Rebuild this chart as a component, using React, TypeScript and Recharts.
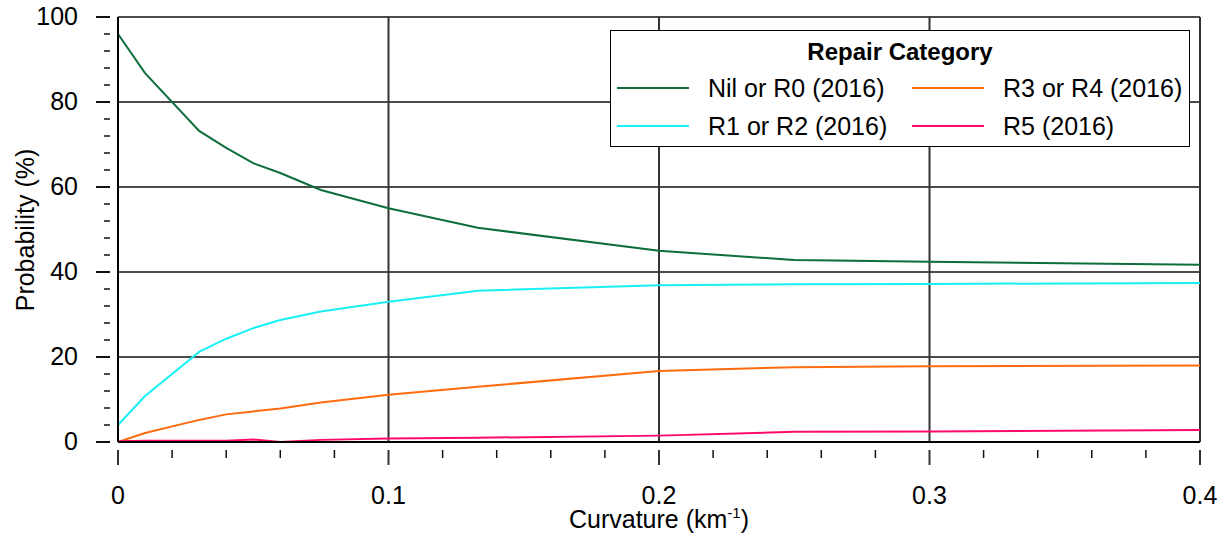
import { LineChart, Line, XAxis, YAxis, ReferenceLine } from 'recharts';

const curvature = [0, 0.01, 0.03, 0.04, 0.05, 0.06, 0.075, 0.1, 0.133, 0.2, 0.25, 0.3, 0.4];
const nilR0 = [96, 86.8, 73.2, 69.2, 65.6, 63.3, 59.3, 55, 50.4, 45, 42.8, 42.4, 41.7];
const r1r2 = [4, 10.8, 21.2, 24.3, 26.8, 28.7, 30.7, 33, 35.6, 36.9, 37.1, 37.2, 37.4];
const r3r4 = [0, 2.1, 5.2, 6.5, 7.2, 7.9, 9.3, 11.1, 13, 16.7, 17.6, 17.8, 18];
const r5 = [0.2, 0.3, 0.3, 0.3, 0.6, 0, 0.5, 0.8, 1, 1.5, 2.4, 2.5, 2.8];

const xMajor = [0, 0.1, 0.2, 0.3, 0.4];
const xTicks = [0, 0.02, 0.04, 0.06, 0.08, 0.1, 0.12, 0.14, 0.16, 0.18, 0.2, 0.22, 0.24, 0.26, 0.28, 0.3, 0.32, 0.34, 0.36, 0.38, 0.4];
const yMajor = [0, 20, 40, 60, 80, 100];
const yTicks = [0, 4, 8, 12, 16, 20, 24, 28, 32, 36, 40, 44, 48, 52, 56, 60, 64, 68, 72, 76, 80, 84, 88, 92, 96, 100];

const series = [
  { key: 'nil', name: 'Nil or R0 (2016)', color: '#0d6e3c', values: nilR0 },
  { key: 'r12', name: 'R1 or R2 (2016)', color: '#18f0f5', values: r1r2 },
  { key: 'r34', name: 'R3 or R4 (2016)', color: '#ff6c10', values: r3r4 },
  { key: 'r5', name: 'R5 (2016)', color: '#ff0a6a', values: r5 },
];

const data = curvature.map((x, i) => {
  const row: Record<string, number> = { x };
  series.forEach((s) => {
    row[s.key] = s.values[i];
  });
  return row;
});

const FONT = 'Arial, "Liberation Sans", sans-serif';
const FS = 25;
const isMajor = (list: number[], v: number) => list.some((m) => Math.abs(m - v) < 1e-9);

const XTick = ({ x, y, payload }: any) => {
  const major = isMajor(xMajor, payload.value);
  return (
    <g>
      <line x1={x} x2={x} y1={y} y2={y + (major ? 15 : 8)} stroke={major ? '#333' : '#111'} strokeWidth={major ? 2 : 1.5} />
      {major && (
        <text x={x} y={y + 54} textAnchor="middle" fontSize={FS} fontFamily={FONT} fill="#000">
          {payload.value}
        </text>
      )}
    </g>
  );
};

const YTick = ({ x, y, payload }: any) => {
  const major = isMajor(yMajor, payload.value);
  return (
    <g>
      <line x1={x - (major ? 14 : 6)} x2={x} y1={y} y2={y} stroke="#111" strokeWidth={major ? 2 : 1.5} />
      {major && (
        <text x={x - 32} y={y + 8} textAnchor="end" fontSize={FS} fontFamily={FONT} fill="#000">
          {payload.value}
        </text>
      )}
    </g>
  );
};

const XTitle = ({ viewBox }: any) => {
  const cx = viewBox.x + viewBox.width / 2;
  return (
    <text x={cx} y={528} textAnchor="middle" fontSize={FS} fontFamily={FONT} fill="#000">
      Curvature (km
      <tspan fontSize={15} dy={-10}>-1</tspan>
      <tspan dy={10}>)</tspan>
    </text>
  );
};

const YTitle = () => (
  <text
    x={34}
    y={230}
    transform="rotate(-90, 34, 230)"
    textAnchor="middle"
    fontSize={FS}
    fontFamily={FONT}
    fill="#000"
  >
    Probability (%)
  </text>
);

const LegendBox = () => (
  <div
    style={{
      position: 'absolute',
      left: 610,
      top: 30,
      width: 578,
      height: 115,
      border: '1px solid #000',
      background: '#fff',
      fontFamily: FONT,
      color: '#000',
    }}
  >
    <div style={{ textAlign: 'center', fontWeight: 'bold', fontSize: 24, marginTop: 8, lineHeight: '26px' }}>
      Repair Category
    </div>
    <div
      style={{
        display: 'grid',
        gridTemplateRows: '38px 38px',
        gridTemplateColumns: '295px 283px',
        gridAutoFlow: 'column',
        marginTop: 4,
      }}
    >
      {series.map((s) => (
        <div key={s.key} style={{ display: 'flex', alignItems: 'center', fontSize: FS }}>
          <div style={{ width: 72, height: 2, background: s.color, marginLeft: 6, marginRight: 19 }} />
          <span>{s.name}</span>
        </div>
      ))}
    </div>
  </div>
);

export default function App() {
  return (
    <div style={{ position: 'absolute', left: 0, top: 0, width: 1230, height: 535, background: '#fff' }}>
      <LineChart width={1230} height={535} data={data} margin={{ top: 17, right: 30, left: 0, bottom: 0 }}>
        <XAxis
          dataKey="x"
          type="number"
          domain={[0, 0.4]}
          ticks={xTicks}
          interval={0}
          height={93}
          axisLine={{ stroke: '#000', strokeWidth: 2 }}
          tickLine={false}
          tick={<XTick />}
          label={<XTitle />}
        />
        <YAxis
          type="number"
          domain={[0, 100]}
          ticks={yTicks}
          interval={0}
          width={118}
          axisLine={{ stroke: '#000', strokeWidth: 2 }}
          tickLine={false}
          tick={<YTick />}
          label={<YTitle />}
        />
        {yMajor.slice(1).map((v) => (
          <ReferenceLine key={`h${v}`} y={v} stroke="#111" strokeWidth={1.5} />
        ))}
        {xMajor.slice(1).map((v) => (
          <ReferenceLine key={`v${v}`} x={v} stroke="#333" strokeWidth={2} />
        ))}
        {series.map((s) => (
          <Line
            key={s.key}
            dataKey={s.key}
            name={s.name}
            stroke={s.color}
            strokeWidth={2}
            dot={false}
            type="linear"
            isAnimationActive={false}
          />
        ))}
      </LineChart>
      <LegendBox />
    </div>
  );
}
